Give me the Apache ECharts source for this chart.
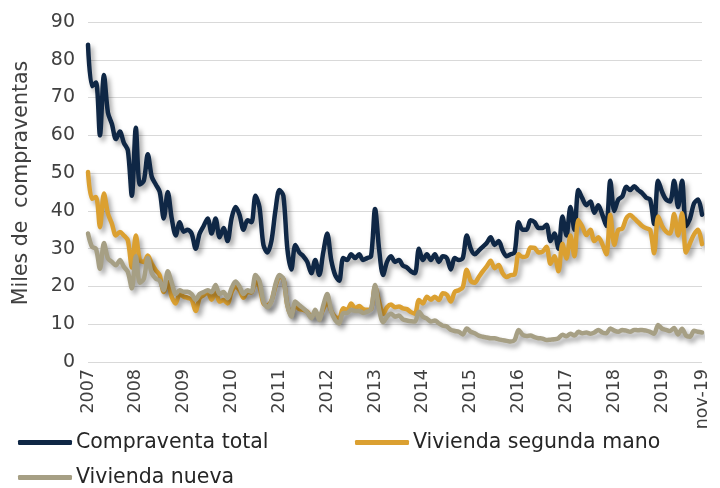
<!DOCTYPE html>
<html><head><meta charset="utf-8">
<script src="https://cdn.jsdelivr.net/npm/echarts@6/dist/echarts.min.js"></script>
<style>html,body{margin:0;padding:0;background:#fff}#c{width:720px;height:488px}</style>
</head><body><div id="c"></div>
<script>
const years = ['2007','2008','2009','2010','2011','2012','2013','2014','2015','2016','2017','2018','2019'];
const lastLabel = 'nov-19';
const seriesNames = ['Compraventa total', 'Vivienda segunda mano', 'Vivienda nueva'];
const yAxisTitle = 'Miles de  compraventas';
const yMin = 0, yMax = 90, yStep = 10;

// monthly values, Jan-2007 ... Nov-2019 (thousands)
const compraventaTotal = [
  84, 73, 74, 60, 76, 66, 63, 59, 61, 58, 56, 44,
  62, 47, 48, 55, 49, 47, 45, 38, 45, 38, 33.5, 37,
  34.5, 35, 34, 30, 34, 36, 38, 34, 38, 33, 35.5, 32,
  38, 41, 39, 35, 37.5, 37, 44, 41, 31, 29, 32, 40,
  45.5, 44, 30, 24.5, 31, 29, 28, 26.5, 23.5, 27, 23, 29,
  34, 27, 23, 21.5, 27.5, 27, 28.5, 27.5, 28.5, 27, 27.5, 28,
  40.5, 30, 23, 26.5, 28, 26.5, 27, 25.5, 25, 24, 23.5, 30,
  27, 28.5, 27, 28.5, 26.5, 28, 27.5, 24.5, 27.5, 27, 27.5, 33.5,
  30, 28.5, 29.5, 30.5, 31.5, 33, 31, 32, 29.5, 28, 28.5, 29,
  37, 35, 35, 37.5, 37, 35.5, 35.5, 36.3, 32, 34, 30, 38.5,
  33.5, 41, 35, 45.5, 43.3, 41.5, 42.5, 39.5, 41.5, 39, 36, 48,
  40, 43, 43.8, 46.4, 45.5, 46.5, 45.5, 44.7, 43.5, 43, 36.5, 48,
  45, 43, 42.5, 48, 41, 48, 36, 38, 42, 43, 39
];
const viviendaSegundaMano = [
  50.3, 43.2, 43.7, 35.7, 44.6, 39.3, 36.6, 33.5, 34.4, 33.5, 32.2, 25,
  33.5, 27, 26.5, 28.2, 26, 24.3, 22.9, 18.5, 21.2, 17.2, 15.5, 18,
  17.3, 17, 16.5, 13.5, 16.9, 17.7, 18.5, 16.5, 18.6, 16, 16.4, 15.5,
  18.5, 20, 19, 17, 18.5, 18.4, 21.3, 20, 15.5, 15, 16.2, 20,
  22.5, 22, 15, 12.5, 15, 14, 13.8, 13.3, 11.9, 13.2, 11.9, 14,
  16, 13.5, 11.9, 11.6, 14.2, 13.8, 15.5, 14.2, 14.8, 14, 13.8, 14,
  20, 16, 12.7, 14.5, 15.2, 14.5, 14.7, 14.2, 14, 13.2, 12.8, 16.4,
  15.5, 17.3, 16.5, 17.3, 16.4, 18.2, 17.8, 16, 18.6, 19, 19.8, 24.4,
  21.5, 21, 22.5, 24, 25.3, 26.8, 24.8, 25.7, 23.5, 22.5, 23, 23.2,
  28.5, 27.8, 28, 30.3, 30.2, 29, 29.2, 30.5, 26, 28, 24, 31.3,
  27.4, 33.5, 28, 37.6, 35.8, 33.6, 35, 32, 33, 31.2, 28.5, 39,
  31, 35, 35.3, 38, 38.9, 38, 37, 36, 35.4, 35, 28.8, 38.5,
  36, 34.5, 34, 39.2, 33.5, 39.4, 29, 31.5, 33.8, 35, 31.2
];
const viviendaNueva = [
  34, 30.5, 30, 24.7, 31.5, 27.4, 26.5, 25.6, 27, 25.2, 23.8, 19.5,
  28, 21, 22, 27.5, 23.5, 22.1, 21.5, 19, 24, 21, 18, 19,
  18.6, 18.6, 18, 16.5, 18, 18.5, 19, 18.5, 20.4, 18, 18.5, 16.9,
  19.5, 21.3, 20, 18, 19, 18.6, 23, 21.5, 16, 14.5, 16, 20.5,
  23, 22, 15, 12, 16, 15, 14.2, 13.2, 11.6, 13.8, 11.1, 15,
  18, 13.5, 11.1, 10.2, 13, 13, 13.8, 13.5, 13.5, 13, 13.3, 14,
  20.4, 14, 10.5, 12, 12.8, 12, 12.3, 11.3, 11, 10.8, 10.7, 13.3,
  12, 11.5, 10.7, 11, 10.2, 9.6, 9.4, 8.5, 8.2, 8, 7.3, 8.9,
  8, 7.6, 7, 6.7, 6.5, 6.3, 6.3, 6, 5.8, 5.6, 5.4, 5.8,
  8.5, 7.2, 6.9, 7, 6.6, 6.3, 6.2, 5.8, 5.9, 6, 6.3, 7.2,
  6.8, 7.5, 7, 8, 7.6, 7.8, 7.5, 7.8, 8.5, 7.8, 7.6, 8.9,
  8.3, 8, 8.5, 8.3, 8, 8.5, 8.4, 8.5, 8.3, 8, 7.5, 9.8,
  8.8, 8.5, 8.2, 9, 7.3, 8.8, 7, 6.7, 8.3, 8, 7.8
];

const categories = [];
years.forEach(y => { for (let m = 1; m <= 12; m++) categories.push(y + '-' + String(m).padStart(2, '0')); });
categories.length = compraventaTotal.length;
const lastIdx = categories.length - 1;

const FONT = 'DejaVu Sans';
const colors = ['#0f2745', '#dba031', '#a69f84'];
const seriesData = [compraventaTotal, viviendaSegundaMano, viviendaNueva];

const chart = echarts.init(document.getElementById('c'), null, { renderer: 'canvas' });
const legendBase = {
  icon: 'roundRect', itemWidth: 54, itemHeight: 5, padding: 0, itemGap: 0,
  textStyle: { fontFamily: FONT, fontSize: 20.5, color: '#262626', padding: [0, 0, 0, -1] }
};
chart.setOption({
  animation: false,
  textStyle: { fontFamily: FONT },
  grid: { left: 88, right: 18, top: 22, bottom: 126 },
  legend: [
    Object.assign({ data: [seriesNames[0]], left: 18, top: 432 }, legendBase),
    Object.assign({ data: [seriesNames[1]], left: 355, top: 432 }, legendBase),
    Object.assign({ data: [seriesNames[2]], left: 18, top: 467 }, legendBase)
  ],
  xAxis: {
    type: 'category', boundaryGap: false, data: categories,
    axisLine: { show: false }, axisTick: { show: false },
    axisLabel: {
      interval: (i) => i % 12 === 0 || i === lastIdx,
      rotate: 90, margin: 7, fontSize: 17.5, color: '#404040', fontFamily: FONT,
      formatter: (v, i) => i === lastIdx ? lastLabel : v.slice(0, 4)
    }
  },
  yAxis: {
    type: 'value', min: yMin, max: yMax, interval: yStep,
    name: yAxisTitle, nameLocation: 'middle', nameGap: 56,
    nameTextStyle: { fontSize: 20.5, color: '#404040', fontFamily: FONT, padding: [0, 0, 0, 18] },
    axisLine: { show: false }, axisTick: { show: false },
    axisLabel: { fontSize: 19, color: '#404040', margin: 13, fontFamily: FONT },
    splitLine: { lineStyle: { color: '#d9d9d9', width: 1 } }
  },
  series: seriesNames.map((n, k) => ({
    name: n, type: 'line', data: seriesData[k], showSymbol: false, symbol: 'none',
    smooth: 0.3, color: colors[k],
    lineStyle: { width: 4.5, color: colors[k], cap: 'round', join: 'round',
      shadowColor: 'rgba(0,0,0,0.35)', shadowBlur: 5, shadowOffsetX: 3, shadowOffsetY: 4 }
  }))
});
</script>
</body></html>
